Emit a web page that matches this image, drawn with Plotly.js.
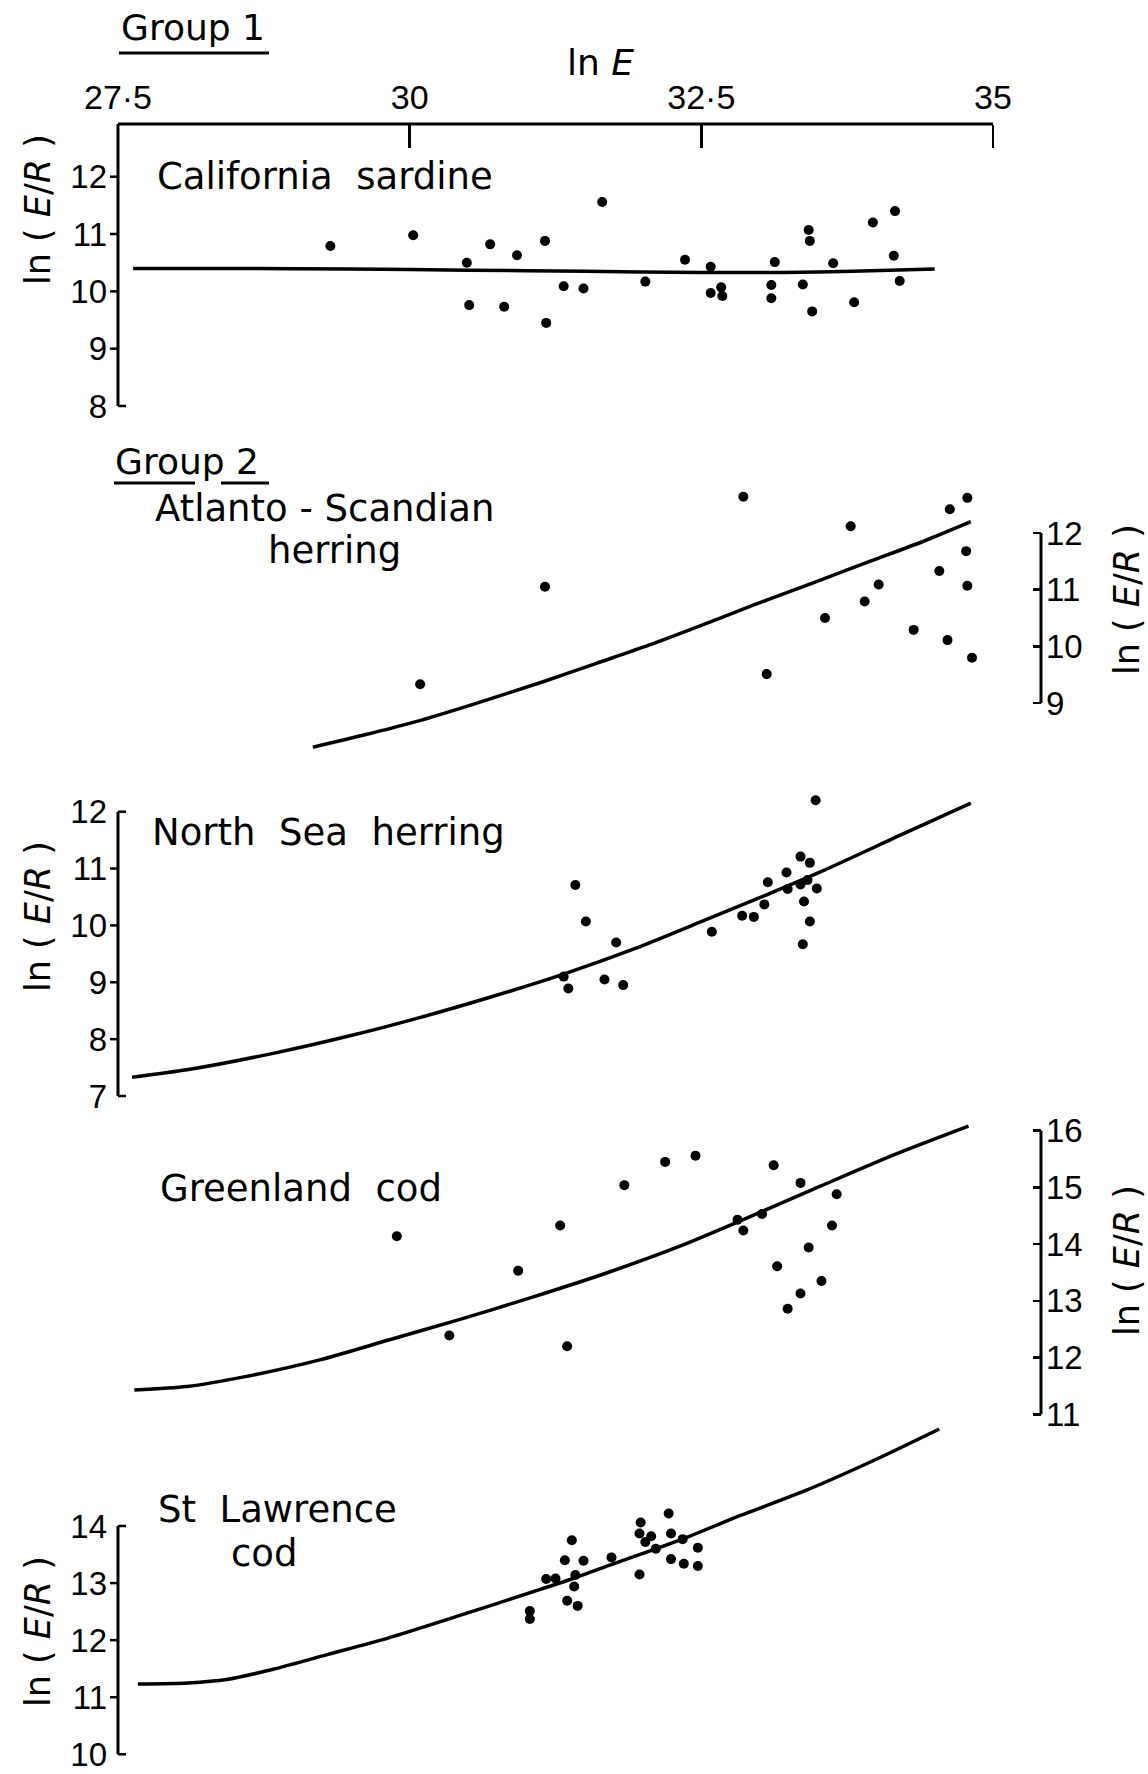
<!DOCTYPE html>
<html>
<head>
<meta charset="utf-8">
<script src="https://cdn.plot.ly/plotly-3.0.1.min.js"></script>
<style>
html,body{margin:0;padding:0;background:#fff;}
#chart{width:1148px;height:1774px;}
</style>
</head>
<body>
<div id="chart"></div>
<script>
// ---------------- data ----------------
const xTickVals = [27.5, 30, 32.5, 35];
const xTickText = ['27·5', '30', '32·5', '35'];

// Group 1 : California sardine
const sardineX = [29.32, 30.03, 30.49, 30.51, 30.69, 30.81, 30.92, 31.16, 31.17, 31.32, 31.49, 31.65, 32.02, 32.36, 32.58, 32.58, 32.67, 32.68, 33.13, 33.10, 33.10, 33.42, 33.43, 33.37, 33.45, 33.63, 33.81, 33.97, 34.16, 34.15, 34.20];
const sardineY = [10.79, 10.98, 10.50, 9.76, 10.82, 9.73, 10.63, 10.88, 9.45, 10.09, 10.05, 11.56, 10.17, 10.55, 10.43, 9.97, 10.07, 9.92, 10.51, 10.11, 9.88, 11.07, 10.88, 10.12, 9.65, 10.49, 9.81, 11.20, 11.40, 10.62, 10.18];
const sardineFitX = [27.63, 28.5, 29.5, 30.5, 31.5, 32.5, 33.2, 33.8, 34.5];
const sardineFitY = [10.40, 10.40, 10.39, 10.37, 10.35, 10.33, 10.33, 10.35, 10.39];
const sardineTicks = [8, 9, 10, 11, 12];

// Group 2 : Atlanto-Scandian herring
const atlantoX = [30.09, 31.16, 32.86, 33.06, 33.56, 33.78, 33.90, 34.02, 34.32, 34.54, 34.61, 34.63, 34.77, 34.78, 34.78, 34.82];
const atlantoY = [9.33, 11.05, 12.64, 9.51, 10.50, 12.12, 10.79, 11.09, 10.29, 11.33, 10.11, 12.42, 11.68, 12.62, 11.07, 9.80];
const atlantoFitX = [29.17, 29.6, 30.07, 30.55, 31.15, 31.6, 32.05, 32.50, 32.95, 33.47, 33.92, 34.40, 34.81];
const atlantoFitY = [8.22, 8.43, 8.68, 8.98, 9.38, 9.70, 10.02, 10.37, 10.73, 11.13, 11.48, 11.85, 12.20];
const atlantoTicks = [9, 10, 11, 12];

// North Sea herring
const northSeaX = [31.32, 31.36, 31.42, 31.51, 31.67, 31.77, 31.83, 32.59, 32.85, 32.95, 33.04, 33.07, 33.23, 33.24, 33.35, 33.41, 33.35, 33.43, 33.38, 33.43, 33.37, 33.49, 33.48];
const northSeaY = [9.10, 8.89, 10.71, 10.07, 9.05, 9.70, 8.95, 9.89, 10.17, 10.15, 10.37, 10.76, 10.93, 10.64, 10.72, 10.80, 11.21, 11.10, 10.42, 10.07, 9.67, 10.65, 12.20];
const northSeaFitX = [27.62, 28.09, 28.83, 29.47, 30.07, 30.71, 31.30, 31.94, 32.54, 33.05, 33.53, 34.22, 34.81];
const northSeaFitY = [7.33, 7.46, 7.75, 8.05, 8.37, 8.75, 9.13, 9.60, 10.10, 10.53, 10.95, 11.60, 12.15];
const northSeaTicks = [7, 8, 9, 10, 11, 12];

// Greenland cod
const greenlandX = [29.89, 30.34, 30.93, 31.29, 31.35, 31.84, 32.19, 32.45, 32.81, 32.86, 33.02, 33.12, 33.15, 33.24, 33.35, 33.35, 33.42, 33.53, 33.62, 33.66];
const greenlandY = [14.14, 12.39, 13.53, 14.33, 12.20, 15.04, 15.45, 15.56, 14.43, 14.24, 14.53, 15.39, 13.61, 12.86, 13.13, 15.08, 13.94, 13.35, 14.33, 14.88];
const greenlandFitX = [27.64, 28.09, 28.58, 29.23, 29.82, 30.41, 31.06, 31.70, 32.30, 32.79, 33.53, 34.17, 34.79];
const greenlandFitY = [11.43, 11.49, 11.66, 11.96, 12.31, 12.66, 13.07, 13.50, 13.95, 14.37, 15.03, 15.59, 16.08];
const greenlandTicks = [11, 12, 13, 14, 15, 16];

// St Lawrence cod
const stLawrenceX = [31.03, 31.03, 31.17, 31.25, 31.33, 31.39, 31.49, 31.42, 31.41, 31.35, 31.44, 31.73, 31.97, 31.98, 31.97, 32.02, 32.07, 32.22, 32.24, 32.11, 32.34, 32.24, 32.35, 32.47, 32.47];
const stLawrenceY = [12.51, 12.37, 13.07, 13.08, 13.40, 13.75, 13.39, 13.14, 12.94, 12.69, 12.60, 13.45, 13.15, 14.06, 13.87, 13.72, 13.82, 14.22, 13.87, 13.60, 13.77, 13.42, 13.34, 13.62, 13.30];
const stLawrenceFitX = [27.67, 28.1, 28.43, 28.83, 29.3, 29.82, 30.41, 31.06, 31.40, 31.75, 32.35, 32.83, 33.38, 34.0, 34.54];
const stLawrenceFitY = [11.23, 11.25, 11.31, 11.49, 11.75, 12.04, 12.42, 12.85, 13.08, 13.34, 13.78, 14.18, 14.61, 15.17, 15.70];
const stLawrenceTicks = [10, 11, 12, 13, 14];

// ---------------- layout helpers ----------------
const W = 1148, H = 1774;
const PXU = 875 / 7.5;                 // pixels per unit of ln E
const X0 = 27.5 - 118 / PXU, X1 = X0 + W / PXU;
const xAt = px => X0 + px / PXU;
const TF = 'Liberation Sans, Arial, sans-serif';
const LF = 'DejaVu Sans, Verdana, sans-serif';

function band(v1, p1, v2, p2, top, bot) {
  const k = (v1 - v2) / (p2 - p1);
  const valAt = p => v1 + (p1 - p) * k;
  return {domain: [1 - bot / H, 1 - top / H], range: [valAt(bot), valAt(top)], valAt, k};
}
const B1 = band(12, 176.7, 8, 406, 100, 420);
const B2 = band(12, 533, 9, 703, 470, 775);
const B3 = band(12, 811.7, 7, 1096, 780, 1108);
const B4 = band(16, 1130.7, 11, 1414.3, 1112, 1425);
const B5 = band(14, 1526, 10, 1754.3, 1420, 1774);

const xLeft = 27.5, xRight = xAt(1041);
const hook = 8 / PXU;

function leftAxis(b, ticks) {
  return {domain: b.domain, range: b.range, anchor: 'free', position: 118 / W, side: 'left',
    tickvals: ticks, ticktext: ticks.map(String), ticks: '', ticklabelstandoff: 11, ticklabeloverflow: 'allow',
    showline: false, showgrid: false, zeroline: false, fixedrange: true,
    tickfont: {family: TF, size: 33, color: '#000'}};
}
function rightAxis(b, ticks) {
  return {domain: b.domain, range: b.range, anchor: 'free', position: 1041 / W, side: 'right',
    tickvals: ticks, ticktext: ticks.map(String), ticks: 'inside', ticklen: 8, tickwidth: 2.5, tickcolor: '#000',
    ticklabelstandoff: 4, ticklabeloverflow: 'allow',
    showline: false, showgrid: false, zeroline: false, fixedrange: true,
    tickfont: {family: TF, size: 33, color: '#000'}};
}

function pts(x, y, ya) {
  return {x, y, xaxis: 'x', yaxis: ya, type: 'scatter', mode: 'markers', cliponaxis: false,
    marker: {size: 10, color: '#000'}, hoverinfo: 'x+y', showlegend: false};
}
function fit(x, y, ya) {
  return {x, y, xaxis: 'x', yaxis: ya, type: 'scatter', mode: 'lines',
    line: {color: '#000', width: 3.5, shape: 'spline', smoothing: 0.7}, hoverinfo: 'skip', showlegend: false};
}

const data = [
  fit(sardineFitX, sardineFitY, 'y'), pts(sardineX, sardineY, 'y'),
  fit(atlantoFitX, atlantoFitY, 'y2'), pts(atlantoX, atlantoY, 'y2'),
  fit(northSeaFitX, northSeaFitY, 'y3'), pts(northSeaX, northSeaY, 'y3'),
  fit(greenlandFitX, greenlandFitY, 'y4'), pts(greenlandX, greenlandY, 'y4'),
  fit(stLawrenceFitX, stLawrenceFitY, 'y5'), pts(stLawrenceX, stLawrenceY, 'y5')
];

const shapes = [];
function seg(yref, x0, y0, x1, y1, w) {
  shapes.push({type: 'line', xref: 'x', yref, x0, y0, x1, y1, line: {color: '#000', width: w || 3}});
}
// top ln E axis line
seg('y', xLeft, B1.valAt(124), 35, B1.valAt(124));
// left axes with tick marks (middle ticks point out, end serifs point in)
function leftLine(yref, b, ticks, topVal) {
  const lo = ticks[0], hi = ticks[ticks.length - 1];
  seg(yref, xLeft, lo, xLeft, topVal !== undefined ? topVal : hi);
  ticks.forEach((v, i) => {
    const isEnd = (i === 0) || (i === ticks.length - 1 && topVal === undefined);
    seg(yref, xLeft, v, isEnd ? xLeft + hook : xLeft - hook, v, 2.5);
  });
}
leftLine('y', B1, sardineTicks, B1.valAt(124));
leftLine('y3', B3, northSeaTicks);
leftLine('y5', B5, stLawrenceTicks);
seg('y2', xRight, atlantoTicks[0], xRight, atlantoTicks[atlantoTicks.length - 1]);
seg('y4', xRight, greenlandTicks[0], xRight, greenlandTicks[greenlandTicks.length - 1]);
// underlines of group headings
function uline(x0, x1, py) {
  shapes.push({type: 'line', xref: 'paper', yref: 'paper', x0: x0 / W, x1: x1 / W, y0: 1 - py / H, y1: 1 - py / H,
    line: {color: '#000', width: 3}});
}
uline(119, 269, 53);
uline(114, 195, 483);
uline(221, 269, 483);

const annotations = [];
function label(text, px, py, xanchor, size, angle) {
  annotations.push({text, x: px / W, y: 1 - py / H, xref: 'paper', yref: 'paper', showarrow: false,
    xanchor: xanchor || 'left', yanchor: 'middle', textangle: angle || 0,
    font: {family: LF, size: size || 37, color: '#000'}});
}
const yTitle = 'ln ( <i>E</i>/<i>R</i> )';
label('Group 1', 119, 28, 'left', 36);
label('ln <i>E</i>', 600, 63, 'center', 36);
label('California  sardine', 155, 177);
label(yTitle, 38, 210, 'center', 35, -90);
label('Group 2', 113, 462, 'left', 36);
label('Atlanto - Scandian', 153, 508);
label('herring', 334, 550, 'center');
label(yTitle, 1127, 600, 'center', 35, -90);
label('North  Sea  herring', 150, 832);
label(yTitle, 38, 917, 'center', 35, -90);
label('Greenland  cod', 158, 1188);
label(yTitle, 1127, 1261, 'center', 35, -90);
label('St  Lawrence', 156, 1509);
label('cod', 264, 1553, 'center');
label(yTitle, 38, 1632, 'center', 35, -90);

const layout = {
  width: W, height: H, margin: {l: 0, r: 0, t: 0, b: 0},
  paper_bgcolor: '#fff', plot_bgcolor: 'rgba(0,0,0,0)', showlegend: false,
  xaxis: {domain: [0, 1], range: [X0, X1], side: 'top', anchor: 'free', position: 1 - 124 / H,
    tickvals: xTickVals, ticktext: xTickText, ticks: 'inside', ticklen: 23, tickwidth: 2.5, tickcolor: '#000',
    ticklabelstandoff: 8,
    showline: false, showgrid: false, zeroline: false, fixedrange: true,
    tickfont: {family: TF, size: 34, color: '#000'}},
  yaxis: leftAxis(B1, sardineTicks),
  yaxis2: rightAxis(B2, atlantoTicks),
  yaxis3: leftAxis(B3, northSeaTicks),
  yaxis4: rightAxis(B4, greenlandTicks),
  yaxis5: leftAxis(B5, stLawrenceTicks),
  shapes, annotations
};

Plotly.newPlot('chart', data, layout, {staticPlot: true, displayModeBar: false});
</script>
</body>
</html>
